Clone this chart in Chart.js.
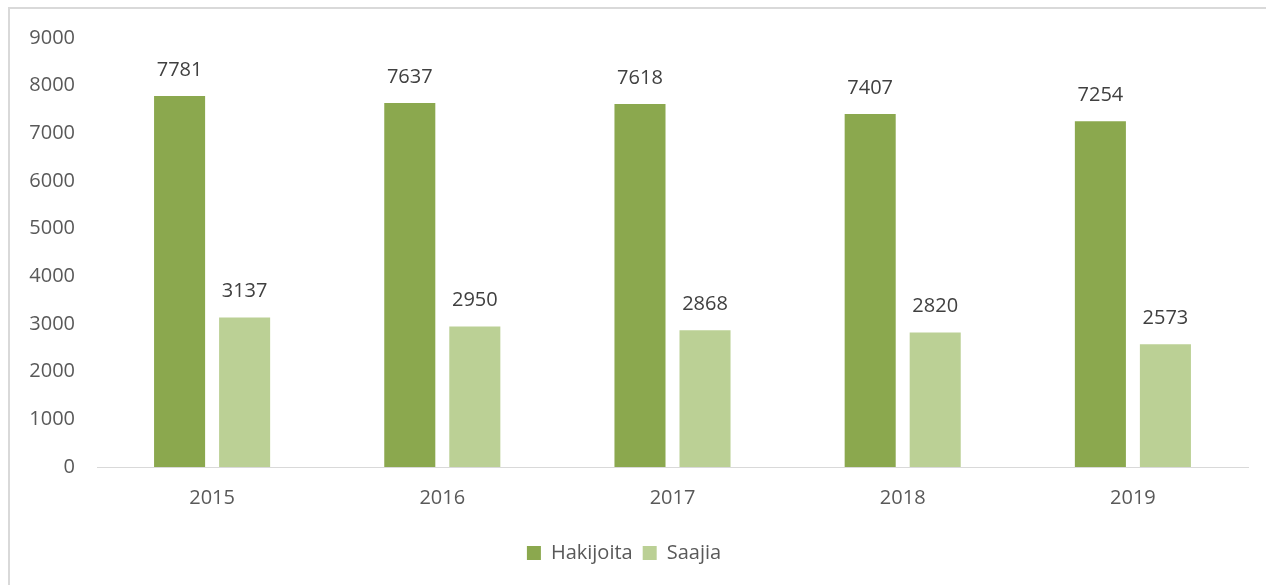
<!DOCTYPE html>
<html>
<head>
<meta charset="utf-8">
<script src="https://cdn.jsdelivr.net/npm/chart.js@4"></script>
<style>
  html, body { margin: 0; padding: 0; background: #fff; overflow: hidden; }
  #frame {
    position: absolute; left: 8px; top: 7px; width: 1300px; height: 700px;
    border: 2px solid #d9d9d9; box-sizing: border-box;
  }
  #wrap { position: absolute; left: 0; top: 0; width: 1266px; height: 585px; }
</style>
</head>
<body>
<div id="frame"></div>
<div id="wrap"><canvas id="chart"></canvas></div>
<script>
// data
const years = ['2015', '2016', '2017', '2018', '2019'];
const hakijoita = [7781, 7637, 7618, 7407, 7254];
const saajia = [3137, 2950, 2868, 2820, 2573];

// simple value labels above each bar
const barLabels = {
  id: 'barLabels',
  afterDatasetsDraw(chart) {
    const ctx = chart.ctx;
    ctx.save();
    ctx.font = '20px "Open Sans"';
    ctx.fillStyle = '#404040';
    ctx.textAlign = 'center';
    ctx.textBaseline = 'middle';
    chart.data.datasets.forEach((ds, i) => {
      chart.getDatasetMeta(i).data.forEach((bar, j) => {
        ctx.fillText(ds.data[j], bar.x, bar.y - 26);
      });
    });
    ctx.restore();
  }
};

Chart.defaults.font.family = '"Open Sans"';
Chart.defaults.color = '#595959';

const data = {
  labels: years,
  datasets: [
    {
      label: 'Hakijoita',
      data: hakijoita,
      backgroundColor: '#8ba84e',
      categoryPercentage: 0.565,
      barPercentage: 0.785,
    },
    {
      label: 'Saajia',
      data: saajia,
      backgroundColor: '#bbd095',
      categoryPercentage: 0.565,
      barPercentage: 0.785,
    }
  ]
};

const config = {
  type: 'bar',
  data: data,
  options: {
    responsive: true,
    maintainAspectRatio: false,
    animation: false,
    layout: { padding: { top: 38, left: 0, right: 18, bottom: 12 } },
    scales: {
      x: {
        grid: { display: false, drawTicks: false },
        border: { color: '#d9d9d9', width: 1 },
        ticks: { font: { size: 20 }, padding: 19 },
        afterFit: (axis) => { axis.height = 66; }
      },
      y: {
        min: 0,
        max: 9000,
        grid: { display: false, drawTicks: false },
        border: { display: false },
        ticks: {
          stepSize: 1000,
          font: { size: 20 },
          padding: 22,
          callback: (v) => String(v)
        },
        afterFit: (axis) => { axis.width = 97; }
      }
    },
    plugins: {
      legend: {
        position: 'bottom',
        labels: {
          boxWidth: 14,
          boxHeight: 14,
          padding: 10,
          font: { size: 20 }
        }
      },
      tooltip: { enabled: false }
    }
  },
  plugins: [barLabels]
};

new Chart(document.getElementById('chart').getContext('2d'), config);
</script>
</body>
</html>
